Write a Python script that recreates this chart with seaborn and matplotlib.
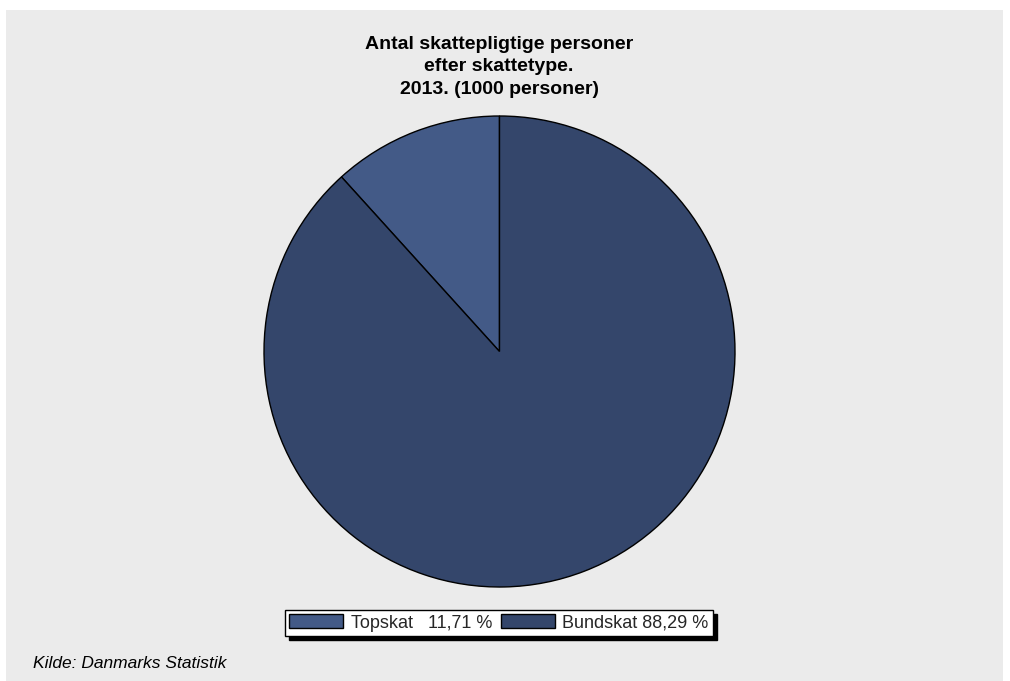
import matplotlib
matplotlib.use("Agg")
import matplotlib.pyplot as plt
from matplotlib.patches import Rectangle, Patch
import seaborn as sns

categories = ["Topskat", "Bundskat"]
shares = [11.71, 88.29]
legend_labels = ["Topskat   11,71 %", "Bundskat 88,29 %"]
colors = ["#435A87", "#34466B"]
title = "Antal skattepligtige personer\nefter skattetype.\n2013. (1000 personer)"
source = "Kilde: Danmarks Statistik"

sns.set_theme(style="white")
plt.rcParams['font.family'] = ['Liberation Sans', 'DejaVu Sans']

W, H = 1010, 681
fig = plt.figure(figsize=(W / 100, H / 100), dpi=100)
fig.patch.set_facecolor("white")
fig.patches.append(Rectangle((6 / W, 0), (1003 - 6) / W, (H - 10) / H,
                             transform=fig.transFigure, facecolor="#EBEBEB",
                             edgecolor="none", zorder=-10))

ax = fig.add_axes([264 / W, 1 - 587 / H, 471 / W, 471 / H])
ax.pie(shares, colors=colors, startangle=90, counterclock=True, radius=1,
       wedgeprops=dict(edgecolor="black", linewidth=1.0))
ax.set_xlim(-1.0, 1.0)
ax.set_ylim(-1.0, 1.0)
ax.set_aspect("equal")
ax.axis("off")

fig.text(499 / W, 1 - 36 / H, title, ha="center", va="top", fontsize=14,
         fontweight="bold", linespacing=1.42, color="black")

handles = [Patch(facecolor=c, edgecolor="black", linewidth=1.0) for c in colors]
leg = fig.legend(handles, legend_labels, ncol=2, loc="center",
                 bbox_to_anchor=(499 / W, 1 - 623 / H), frameon=True,
                 fancybox=False, edgecolor="black", facecolor="white",
                 shadow={"color": "black", "alpha": 1.0, "ox": 3, "oy": -3},
                 fontsize=13, handlelength=3.0, handleheight=0.8,
                 handletextpad=0.4, columnspacing=0.5, borderpad=0.25,
                 borderaxespad=0)
leg.get_frame().set_linewidth(1.0)

fig.text(33 / W, 1 - 664 / H, source, ha="left", va="center", fontsize=12.5,
         fontstyle="italic", color="black")

fig.savefig("out.png", dpi=100, facecolor=fig.get_facecolor())
